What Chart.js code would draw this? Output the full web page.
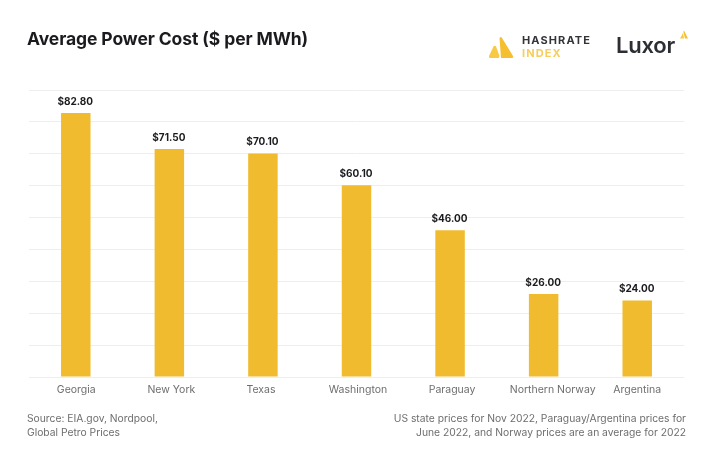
<!DOCTYPE html>
<html>
<head>
<meta charset="utf-8">
<script src="https://cdn.jsdelivr.net/npm/chart.js@4"></script>
<style>
  html, body { margin: 0; padding: 0; background: #fff; }
  body { width: 722px; height: 453px; position: relative; overflow: hidden; font-family: Inter, sans-serif; }
  #chart { position: absolute; left: 0; top: 0; }
  .txt { position: absolute; white-space: nowrap; }
  #title { left: 27px; top: 28px; font-size: 17.5px; font-weight: 700; color: #1b1b1f; letter-spacing: -0.1px; line-height: 22px; }
  #source { left: 27px; top: 411px; font-size: 10.3px; color: #6e6e6e; line-height: 14px; }
  #note { right: 36px; top: 411px; font-size: 10.3px; color: #6e6e6e; line-height: 14px; text-align: right; }
  #hr1 { left: 522px; top: 34px; font-size: 11px; font-weight: 700; letter-spacing: 1.1px; color: #33343a; line-height: 13px; }
  #hr2 { left: 522px; top: 47px; font-size: 11px; font-weight: 700; letter-spacing: 1.1px; color: #f8cd5a; line-height: 13px; }
  #luxor { left: 616px; top: 31px; font-size: 22px; font-weight: 600; color: #2d2e33; line-height: 28px; letter-spacing: -0.2px; }
  svg { position: absolute; left: 0; top: 0; }
</style>
</head>
<body>
<canvas id="chart" width="722" height="453"></canvas>
<div class="txt" id="title">Average Power Cost ($ per MWh)</div>
<svg width="722" height="453">
  <path d="M489 56 L493.5 46.5 Q495 45 496 46.5 L499.5 56 Q499.5 58 498 58 L490 58 Q488.5 58 489 56 Z" fill="#f8c945"/>
  <path d="M499.5 38 Q501 36 502 38 L513 56 Q513.5 58 512 58 L501 58 Z" fill="#f5bf30"/>
  <path d="M680 38.5 L683 33 L684 38.5 Z" fill="#f8c945"/>
  <path d="M684 30.5 L688 38.5 L685 38.5 L683.4 32 Z" fill="#f5bf30"/>
</svg>
<div class="txt" id="hr1">HASHRATE</div>
<div class="txt" id="hr2">INDEX</div>
<div class="txt" id="luxor">Luxor</div>
<div class="txt" id="source">Source: EIA.gov, Nordpool,<br>Global Petro Prices</div>
<div class="txt" id="note">US state prices for Nov 2022, Paraguay/Argentina prices for<br>June 2022, and Norway prices are an average for 2022</div>
<script>
  const regions = ['Georgia', 'New York', 'Texas', 'Washington', 'Paraguay', 'Northern Norway', 'Argentina'];
  const powerCost = [82.8, 71.5, 70.1, 60.1, 46.0, 26.0, 24.0];
  const axisMax = 90;
  const axisStep = 10;

  // the original's category labels sit a little off the bar centres
  const labelNudge = [0.5, 2, -2, 1.5, 2, 9, 0];

  // value labels above each bar, category labels under the axis
  const barLabels = {
    id: 'barLabels',
    afterDatasetsDraw(chart) {
      const ctx = chart.ctx;
      const meta = chart.getDatasetMeta(0);
      const xScale = chart.scales.x;
      ctx.save();
      ctx.textAlign = 'center';
      ctx.textBaseline = 'alphabetic';
      ctx.font = '700 10px Inter, sans-serif';
      ctx.fillStyle = '#1b1b1f';
      meta.data.forEach((bar, i) => {
        ctx.fillText('$' + powerCost[i].toFixed(2), bar.x - 0.5, bar.y - 8);
      });
      ctx.font = '10.5px Inter, sans-serif';
      ctx.fillStyle = '#6e6e6e';
      regions.forEach((name, i) => {
        ctx.fillText(name, xScale.getPixelForValue(i) + labelNudge[i], xScale.top + 16);
      });
      ctx.restore();
    }
  };

  new Chart(document.getElementById('chart'), {
    type: 'bar',
    data: {
      labels: regions,
      datasets: [{
        data: powerCost,
        backgroundColor: '#f0bb2e',
        categoryPercentage: 1,
        barPercentage: 0.315
      }]
    },
    options: {
      responsive: false,
      animation: false,
      layout: { padding: { left: 29, right: 38, top: 90, bottom: 0 } },
      plugins: { legend: { display: false }, tooltip: { enabled: false } },
      scales: {
        x: {
          afterFit: (scale) => { scale.height = 453 - 90 - 287; },
          grid: { display: false },
          border: { display: false },
          ticks: { display: false }
        },
        y: {
          min: 0,
          max: axisMax,
          afterFit: (scale) => { scale.width = 0; },
          border: { display: false },
          grid: { color: '#eeeeee', lineWidth: 1, drawTicks: false },
          ticks: { display: false, stepSize: axisStep }
        }
      }
    },
    plugins: [barLabels]
  });
</script>
</body>
</html>
